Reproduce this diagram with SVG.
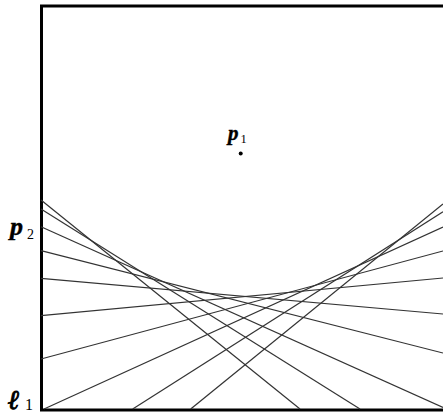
<svg xmlns="http://www.w3.org/2000/svg" width="443" height="414" viewBox="0 0 443 414">
<style>
.frame{fill:none;stroke:#000;stroke-width:3}
.ln{stroke:#333;stroke-width:1.2;fill:none}
.v{font-family:"Liberation Serif","Times New Roman",serif;font-weight:bold;font-style:italic;fill:#000;stroke:#000;stroke-width:0.4}
.ell{font-family:"DejaVu Serif",serif;font-weight:bold;font-style:italic;fill:#000;stroke:#000;stroke-width:0.9}
.s{font-family:"Liberation Serif","Times New Roman",serif;fill:#000}
</style>
<rect width="443" height="414" fill="#fff"/>
<g id="frame"><path class="frame" d="M443,6 H41.5 V410 H443"/></g>
<g id="connectors">
<line class="ln" x1="41" y1="200" x2="300" y2="409"/>
<line class="ln" x1="41" y1="209" x2="360" y2="409"/>
<line class="ln" x1="41" y1="226.7" x2="443" y2="407.5"/>
<line class="ln" x1="41" y1="250.7" x2="443" y2="353"/>
<line class="ln" x1="41" y1="278.3" x2="443" y2="314"/>
<line class="ln" x1="443" y1="204" x2="190.7" y2="409"/>
<line class="ln" x1="443" y1="211.7" x2="132.7" y2="409"/>
<line class="ln" x1="443" y1="227" x2="44" y2="409"/>
<line class="ln" x1="443" y1="251" x2="41" y2="359"/>
<line class="ln" x1="443" y1="278" x2="41" y2="315.7"/>
</g>
<g id="p1">
<circle cx="240.7" cy="153.5" r="2"/>
<text class="v" x="228" y="140" font-size="21">p</text>
<text class="s" x="240.5" y="143" font-size="12.5">1</text>
</g>
<g id="p2">
<text class="v" x="10" y="235" font-size="26">p</text>
<text class="s" x="27" y="238.5" font-size="14">2</text>
</g>
<g id="l1">
<text class="ell" x="8" y="409" font-size="27">ℓ</text>
<text class="s" x="25" y="410" font-size="16">1</text>
</g>
</svg>
